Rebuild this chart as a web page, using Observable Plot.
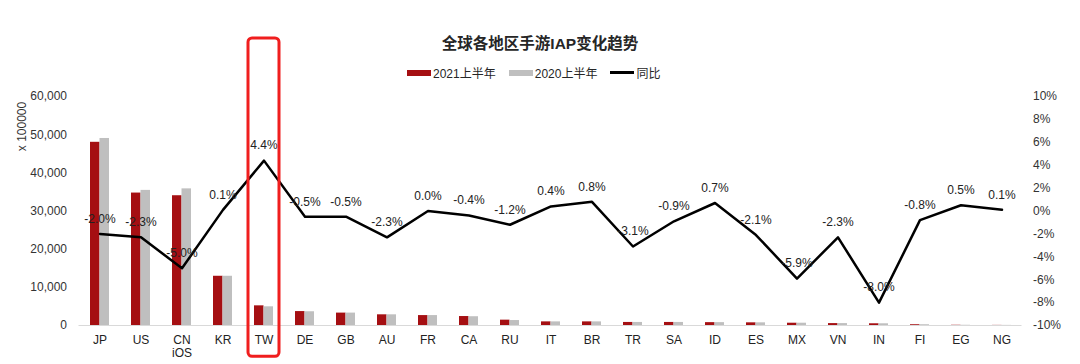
<!DOCTYPE html>
<html>
<head>
<meta charset="utf-8">
<script src="https://cdn.jsdelivr.net/npm/d3@7"></script>
<script src="https://cdn.jsdelivr.net/npm/@observablehq/plot@0.6"></script>
<style>
  html, body { margin: 0; padding: 0; background: #fff; }
  #wrap { position: relative; width: 1080px; height: 364px; font-family: "Liberation Sans", Arial, "Noto Sans CJK SC", sans-serif; }
  #title { position: absolute; left: 0; width: 1080px; top: 31px; text-align: center; font-size: 15.5px; font-weight: bold; color: #262626; font-family: "Liberation Sans", "Noto Sans CJK SC", sans-serif; }
  #legend { position: absolute; top: 64px; left: 407px; font-size: 12px; color: #262626; display: flex; align-items: center; font-family: "Liberation Sans", "Noto Sans CJK SC", sans-serif; }
  .item { display: flex; align-items: center; margin-right: 13px; }
  .sw { width: 24px; height: 6px; margin-right: 2px; }
  .ln { width: 24px; height: 3px; background: #000; margin-right: 2px; }
  #chart { position: absolute; left: 0; top: 0; }
</style>
</head>
<body>
<div id="wrap">
  <div id="chart"></div>
  <div id="title">全球各地区手游IAP变化趋势</div>
  <div id="legend"></div>
</div>
<script>
const categories = ["JP","US","CN","KR","TW","DE","GB","AU","FR","CA","RU","IT","BR","TR","SA","ID","ES","MX","VN","IN","FI","EG","NG"];
const categoryLabels = ["JP","US","CN\niOS","KR","TW","DE","GB","AU","FR","CA","RU","IT","BR","TR","SA","ID","ES","MX","VN","IN","FI","EG","NG"];
const iap2021 = [48000,34700,34000,12900,5150,3650,3250,2800,2600,2350,1400,950,950,800,800,750,700,600,500,450,200,60,30];
const iap2020 = [49000,35400,35800,12900,4900,3600,3250,2800,2600,2300,1300,950,950,800,800,750,700,600,500,450,200,60,30];
const yoy = [-2.0,-2.3,-5.0,0.1,4.4,-0.5,-0.5,-2.3,0.0,-0.4,-1.2,0.4,0.8,-3.1,-0.9,0.7,-2.1,-5.9,-2.3,-8.0,-0.8,0.5,0.1];
const leftTicks = [0,10000,20000,30000,40000,50000,60000];
const rightTicks = [-10,-8,-6,-4,-2,0,2,4,6,8,10];
const highlight = "TW";
const seriesNames = ["2021上半年","2020上半年","同比"];
const colors = ["#a50f12","#bfbfbf","#000000"];

// right axis (-10%..10%) shares the left scale (0..60000)
const toLeft = p => (p + 10) * 3000;

const rows = categories.map((c, i) => ({c, label: categoryLabels[i], a: iap2021[i], b: iap2020[i], p: yoy[i]}));
const labelOf = new Map(rows.map(d => [d.c, d.label]));

const chart = Plot.plot({
  width: 1080,
  height: 364,
  marginLeft: 78.5,
  marginRight: 58.5,
  marginTop: 96,
  marginBottom: 39,
  style: {fontFamily: "'Liberation Sans', Arial, sans-serif", fontSize: "12px", color: "#333", background: "transparent"},
  x: {type: "band", domain: categories, padding: 0},
  y: {domain: [0, 60000]},
  marks: [
    Plot.ruleY([0], {stroke: "#d9d9d9", strokeWidth: 1}),
    Plot.barY(rows, {x: "c", y: "a", fill: colors[0], insetLeft: 11, insetRight: 20.5}),
    Plot.barY(rows, {x: "c", y: "b", fill: colors[1], insetLeft: 20.5, insetRight: 11}),
    Plot.line(rows, {x: "c", y: d => toLeft(d.p), stroke: colors[2], strokeWidth: 2.5}),
    Plot.text(rows, {x: "c", y: d => toLeft(d.p), text: d => d.p.toFixed(1) + "%", dy: -15, fill: "#222", fontSize: 12}),
    Plot.axisY({ticks: leftTicks, tickFormat: d3.format(","), tickSize: 0, tickPadding: 12, label: null, fill: "#333"}),
    Plot.axisY({anchor: "right", ticks: rightTicks.map(toLeft), tickFormat: v => Math.round(v / 3000 - 10) + "%", tickSize: 0, tickPadding: 11, label: null, fill: "#333"}),
    Plot.axisX({tickSize: 0, tickPadding: 9, tickFormat: c => labelOf.get(c), label: null, fill: "#222", lineHeight: 1.1}),
    Plot.text(["x 100000"], {frameAnchor: "top-left", dx: -56.5, dy: 30, rotate: -90, textAnchor: "middle", lineAnchor: "middle", fill: "#333", fontSize: 12}),
    Plot.rectY([highlight], {x: d => d, y1: -8200, y2: 75200, insetLeft: 5, insetRight: 5, fill: "none", stroke: "#f01e1e", strokeWidth: 3, rx: 4, clip: false})
  ]
});
document.getElementById("chart").appendChild(chart);

const legend = document.getElementById("legend");
seriesNames.forEach((n, i) => {
  const it = document.createElement("div");
  it.className = "item";
  const sw = document.createElement("div");
  if (i < 2) { sw.className = "sw"; sw.style.background = colors[i]; } else { sw.className = "ln"; }
  it.appendChild(sw);
  const t = document.createElement("span");
  t.textContent = n;
  it.appendChild(t);
  legend.appendChild(it);
});
</script>
</body>
</html>
